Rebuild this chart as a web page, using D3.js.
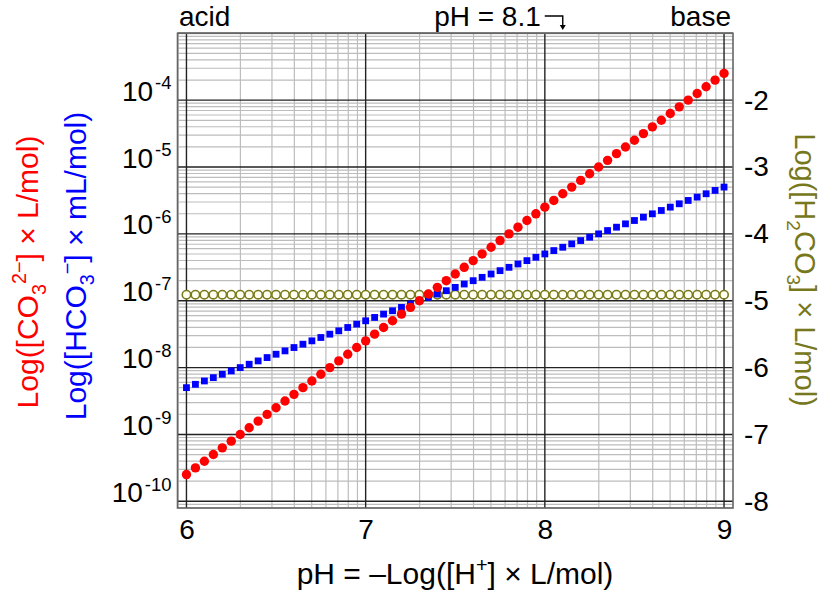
<!DOCTYPE html>
<html>
<head>
<meta charset="utf-8">
<script src="https://cdn.jsdelivr.net/npm/d3@7"></script>
<style>
  body { margin: 0; background: #fff; }
  text { font-family: "Liberation Sans", Arial, sans-serif; }
</style>
</head>
<body>
<div id="chart"></div>
<script>
// data (log10 of concentration)
var pH = [6.00,6.05,6.10,6.15,6.20,6.25,6.30,6.35,6.40,6.45,
          6.50,6.55,6.60,6.65,6.70,6.75,6.80,6.85,6.90,6.95,
          7.00,7.05,7.10,7.15,7.20,7.25,7.30,7.35,7.40,7.45,
          7.50,7.55,7.60,7.65,7.70,7.75,7.80,7.85,7.90,7.95,
          8.00,8.05,8.10,8.15,8.20,8.25,8.30,8.35,8.40,8.45,
          8.50,8.55,8.60,8.65,8.70,8.75,8.80,8.85,8.90,8.95,
          9.00];
// log10([CO3 2-] x L/mol), left axis
var carbonate = [-9.6,-9.5,-9.4,-9.3,-9.2,-9.1,-9.0,-8.9,-8.8,-8.7,
                 -8.6,-8.5,-8.4,-8.3,-8.2,-8.1,-8.0,-7.9,-7.8,-7.7,
                 -7.6,-7.5,-7.4,-7.3,-7.2,-7.1,-7.0,-6.9,-6.8,-6.7,
                 -6.6,-6.5,-6.4,-6.3,-6.2,-6.1,-6.0,-5.9,-5.8,-5.7,
                 -5.6,-5.5,-5.4,-5.3,-5.2,-5.1,-5.0,-4.9,-4.8,-4.7,
                 -4.6,-4.5,-4.4,-4.3,-4.2,-4.1,-4.0,-3.9,-3.8,-3.7,
                 -3.6];
// log10([HCO3 -] x mL/mol), left axis
var bicarbonate = [-8.30,-8.25,-8.20,-8.15,-8.10,-8.05,-8.00,-7.95,-7.90,-7.85,
                   -7.80,-7.75,-7.70,-7.65,-7.60,-7.55,-7.50,-7.45,-7.40,-7.35,
                   -7.30,-7.25,-7.20,-7.15,-7.10,-7.05,-7.00,-6.95,-6.90,-6.85,
                   -6.80,-6.75,-6.70,-6.65,-6.60,-6.55,-6.50,-6.45,-6.40,-6.35,
                   -6.30,-6.25,-6.20,-6.15,-6.10,-6.05,-6.00,-5.95,-5.90,-5.85,
                   -5.80,-5.75,-5.70,-5.65,-5.60,-5.55,-5.50,-5.45,-5.40,-5.35,
                   -5.30];
// log10([H2CO3] x L/mol), right axis
var carbonic = [-4.91,-4.91,-4.91,-4.91,-4.91,-4.91,-4.91,-4.91,-4.91,-4.91,
                -4.91,-4.91,-4.91,-4.91,-4.91,-4.91,-4.91,-4.91,-4.91,-4.91,
                -4.91,-4.91,-4.91,-4.91,-4.91,-4.91,-4.91,-4.91,-4.91,-4.91,
                -4.91,-4.91,-4.91,-4.91,-4.91,-4.91,-4.91,-4.91,-4.91,-4.91,
                -4.91,-4.91,-4.91,-4.91,-4.91,-4.91,-4.91,-4.91,-4.91,-4.91,
                -4.91,-4.91,-4.91,-4.91,-4.91,-4.91,-4.91,-4.91,-4.91,-4.91,
                -4.91];

// tick labels
var xTicks = [6, 7, 8, 9];
var leftTicks = [-10, -9, -8, -7, -6, -5, -4];
var rightTicks = [-8, -7, -6, -5, -4, -3, -2];
var markedPH = 8.1;

var W = 826, H = 591;
var plot = {left: 177.5, right: 733, top: 33.3, bottom: 508};

var svg = d3.select("#chart").append("svg")
    .attr("width", W)
    .attr("height", H);

var x = d3.scaleLinear().domain([5.95, 9.05]).range([plot.left, plot.right]);
var y = d3.scaleLinear().domain([-10.1, -3]).range([plot.bottom, plot.top]);
var yR = d3.scaleLinear().domain([-8.1, -1]).range([plot.bottom, plot.top]);

// log style minor grid inside every unit step
function minors(lo, hi) {
  var out = [];
  for (var n = Math.floor(lo) - 1; n <= Math.ceil(hi); n++) {
    for (var k = 2; k <= 9; k++) {
      var v = n + Math.log10(k);
      if (v >= lo && v <= hi) out.push(v);
    }
  }
  return out;
}

var grid = svg.append("g");
grid.selectAll(".mx")
    .data(minors(5.95, 9.05))
  .enter().append("line")
    .attr("x1", function(d) { return x(d); })
    .attr("x2", function(d) { return x(d); })
    .attr("y1", plot.top).attr("y2", plot.bottom)
    .style("stroke", "#bdbdbd").style("stroke-width", 1.2);
grid.selectAll(".my")
    .data(minors(-10.1, -3))
  .enter().append("line")
    .attr("y1", function(d) { return y(d); })
    .attr("y2", function(d) { return y(d); })
    .attr("x1", plot.left).attr("x2", plot.right)
    .style("stroke", "#bdbdbd").style("stroke-width", 1.2);
// major grid
grid.selectAll(".Mx")
    .data(xTicks)
  .enter().append("line")
    .attr("x1", function(d) { return x(d); })
    .attr("x2", function(d) { return x(d); })
    .attr("y1", plot.top).attr("y2", plot.bottom)
    .style("stroke", "#222").style("stroke-width", 1.4);
grid.selectAll(".My")
    .data(leftTicks.concat([-3]))
  .enter().append("line")
    .attr("y1", function(d) { return y(d); })
    .attr("y2", function(d) { return y(d); })
    .attr("x1", plot.left).attr("x2", plot.right)
    .style("stroke", "#222").style("stroke-width", 1.4);

svg.append("rect")
    .attr("x", plot.left).attr("y", plot.top)
    .attr("width", plot.right - plot.left)
    .attr("height", plot.bottom - plot.top)
    .style("fill", "none").style("stroke", "#666").style("stroke-width", 1.6);

// text with sub / superscripts
function rich(sel, parts, size) {
  var shift = 0;
  parts.forEach(function(p) {
    var target = p[1] === "sub" ? size * 0.28 : p[1] === "sup" ? -size * 0.4 : 0;
    var t = sel.append("tspan").text(p[0]).attr("dy", target - shift);
    if (p[1]) t.style("font-size", (size * 0.66) + "px");
    if (p[2]) t.attr("dx", p[2]);
    shift = target;
  });
}

// axes
var fs = 28, ts = 30;
var xAxis = svg.append("g")
    .attr("transform", "translate(0," + plot.bottom + ")")
    .call(d3.axisBottom(x).tickValues(xTicks).tickSize(0).tickPadding(11)
      .tickFormat(d3.format("d")));
var lAxis = svg.append("g")
    .attr("transform", "translate(" + (plot.left - 6) + ",0)")
    .call(d3.axisLeft(y).tickValues(leftTicks).tickSize(0).tickPadding(0).tickFormat(""));
var rAxis = svg.append("g")
    .attr("transform", "translate(" + (plot.right + 11) + ",0)")
    .call(d3.axisRight(yR).tickValues(rightTicks).tickSize(0).tickPadding(0)
      .tickFormat(function(d) { return "-" + Math.abs(d); }));
[xAxis, lAxis, rAxis].forEach(function(a) {
  a.select(".domain").remove();
  a.selectAll("text").style("font-size", fs + "px").style("font-family", null).attr("fill", "#000");
});
lAxis.selectAll(".tick text").each(function(d) {
  rich(d3.select(this), [["10"], ["-" + Math.abs(d), "sup", 2]], fs);
});

// series
svg.append("g").selectAll("circle")
    .data(carbonic)
  .enter().append("circle")
    .attr("cx", function(d, i) { return x(pH[i]); })
    .attr("cy", function(d) { return yR(d); })
    .attr("r", 4.2)
    .style("fill", "#fffff2").style("stroke", "#7a7a1c").style("stroke-width", 1.6);

svg.append("g").selectAll("rect")
    .data(bicarbonate)
  .enter().append("rect")
    .attr("x", function(d, i) { return x(pH[i]) - 3.4; })
    .attr("y", function(d) { return y(d) - 3.4; })
    .attr("width", 6.8).attr("height", 6.8)
    .style("fill", "#0000ff");

svg.append("g").selectAll("circle")
    .data(carbonate)
  .enter().append("circle")
    .attr("cx", function(d, i) { return x(pH[i]); })
    .attr("cy", function(d) { return y(d); })
    .attr("r", 4.7)
    .style("fill", "#ff0000");

// top labels
svg.append("text").attr("x", 179).attr("y", 26).style("font-size", fs + "px").text("acid");
svg.append("text").attr("x", 731).attr("y", 26).attr("text-anchor", "end").style("font-size", fs + "px").text("base");
svg.append("text").attr("x", x(markedPH) - 22).attr("y", 26).attr("text-anchor", "end")
    .style("font-size", fs + "px").text("pH = " + markedPH);
svg.append("path")
    .attr("d", "M" + (x(markedPH) - 18) + ",16H" + x(markedPH) + "V27")
    .style("fill", "none").style("stroke", "#000").style("stroke-width", 1.4);
svg.append("path")
    .attr("d", "M" + (x(markedPH) - 3) + ",25L" + x(markedPH) + ",30L" + (x(markedPH) + 3) + ",25Z")
    .style("fill", "#000");

// axis titles
var bt = svg.append("text").attr("x", 455).attr("y", 584).attr("text-anchor", "middle").style("font-size", ts + "px");
rich(bt, [["pH = \u2013Log([H"], ["+", "sup"], ["] \u00d7 L/mol)"]], ts);

var rt = svg.append("text").attr("transform", "translate(38,272) rotate(-90)")
    .attr("text-anchor", "middle").style("font-size", ts + "px").attr("fill", "#ff0000");
rich(rt, [["Log([CO"], ["3", "sub"], ["2\u2212", "sup"], ["] \u00d7 L/mol)"]], ts);

var blt = svg.append("text").attr("transform", "translate(86,266) rotate(-90)")
    .attr("text-anchor", "middle").style("font-size", ts + "px").attr("fill", "#0000ff");
rich(blt, [["Log([HCO"], ["3", "sub"], ["\u2212", "sup"], ["] \u00d7 mL/mol)"]], ts);

var ot = svg.append("text").attr("transform", "translate(795,270) rotate(90)")
    .attr("text-anchor", "middle").style("font-size", "29px").attr("fill", "#77771c");
rich(ot, [["Log([H"], ["2", "sub"], ["CO"], ["3", "sub"], ["] \u00d7 L/mol)"]], 29);
</script>
</body>
</html>
